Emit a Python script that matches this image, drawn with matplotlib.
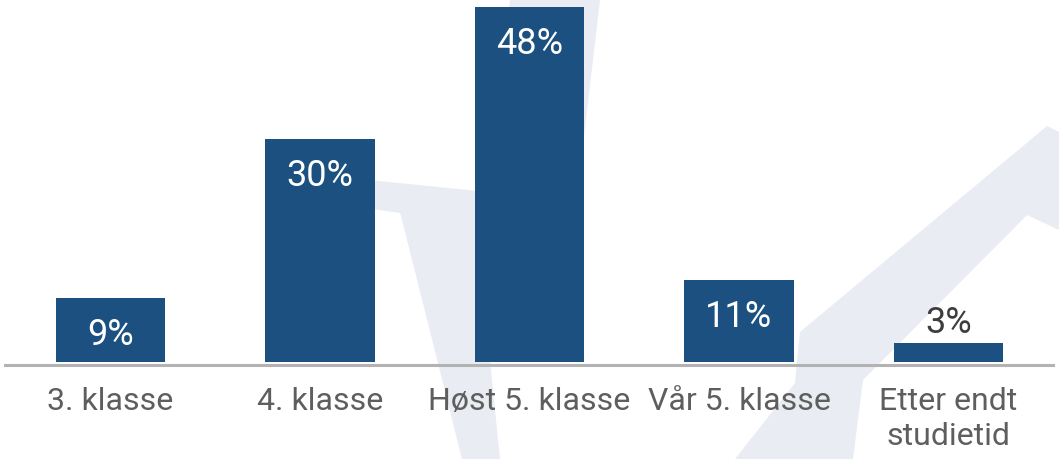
import matplotlib
matplotlib.use("Agg")
import matplotlib.pyplot as plt
import matplotlib.patches as patches

# data
categories = ["3. klasse", "4. klasse", "Høst 5. klasse", "Vår 5. klasse", "Etter endt\nstudietid"]
shares = [8.7, 30.1, 47.9, 11.1, 2.6]          # percent
label_inside = [True, True, True, True, False]

bar_color = "#1b5080"
mark_color = "#eaecf4"
text_gray = "#5e5e5e"

plt.rcParams["font.family"] = ["Roboto", "DejaVu Sans"]

W, H = 1059, 459
fig = plt.figure(figsize=(W / 100, H / 100), dpi=100)

# faint background logo shapes, drawn in pixel space
bg = fig.add_axes([0, 0, 1, 1], zorder=0)
bg.set_xlim(0, W)
bg.set_ylim(H, 0)
bg.axis("off")
shapes = [
    [(510, 0), (600, 0), (576, 205), (486, 205)],
    [(330, 176), (576, 201), (566, 226), (400, 213), (330, 203)],
    [(400, 212), (473, 193), (500, 459), (462, 459)],
    [(735, 459), (795, 383), (800, 332), (1047, 126), (1059, 132),
     (1059, 230), (1027, 215), (863, 380), (853, 459)],
]
for pts in shapes:
    bg.add_patch(patches.Polygon(pts, closed=True, color=mark_color, lw=0))

# main chart
base_px = 362
ax = fig.add_axes([0, (H - base_px) / H, 1, base_px / H], zorder=1)
ax.patch.set_alpha(0)
x = list(range(len(categories)))
ax.bar(x, shares, width=0.525, color=bar_color, zorder=2)

ytop = shares[2] * base_px / (base_px - 7)
ax.set_ylim(0, ytop)
ax.set_xlim(-110.5 / 209.5, (W - 110.5) / 209.5)

# base line just under the bars
ax.axhline(-2.5 * ytop / base_px, xmin=0.005, xmax=0.994, color="#b3b3b3",
           lw=2.2, clip_on=False, zorder=1)

for i, v in enumerate(shares):
    txt = f"{v:.0f}%"
    if label_inside[i]:
        ax.annotate(txt, (i, v), xytext=(0, -34), textcoords="offset points",
                    ha="center", va="baseline", color="white", fontsize=26)
    else:
        ax.annotate(txt, (i, v), xytext=(0, 7), textcoords="offset points",
                    ha="center", va="baseline", color="#3d3d3d", fontsize=26)

ax.set_xticks(x)
ax.set_xticklabels(categories, fontsize=23, color=text_gray, linespacing=1.28)
ax.tick_params(axis="x", length=0, pad=18)
ax.set_yticks([])
for s in ax.spines.values():
    s.set_visible(False)

fig.savefig("out.png", dpi=100)
